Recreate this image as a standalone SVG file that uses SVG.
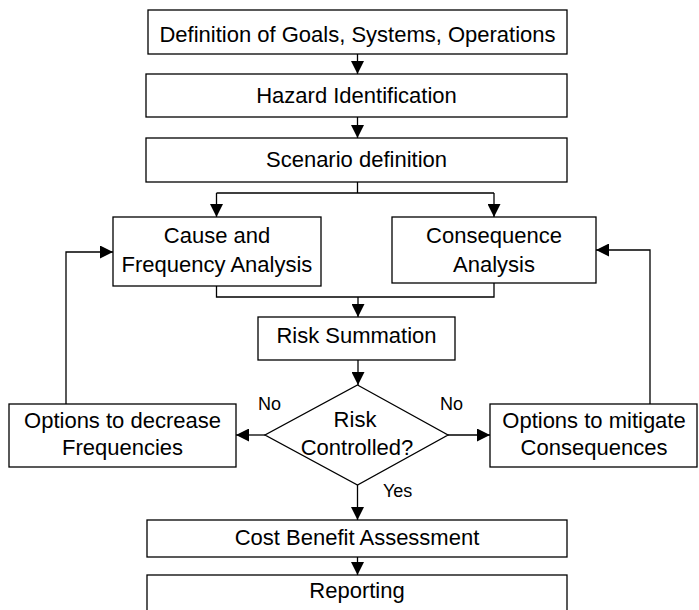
<svg xmlns="http://www.w3.org/2000/svg" width="699" height="610" viewBox="0 0 699 610">
<style>
.box{fill:#fff;stroke:#000;stroke-width:1.3}
.t{font-family:"Liberation Sans",Arial,sans-serif;font-size:22px;fill:#000;text-anchor:middle}
.l{font-family:"Liberation Sans",Arial,sans-serif;font-size:18px;fill:#000}
.c{fill:none;stroke:#000;stroke-width:1.3}
</style>
<defs>
<marker id="ah" markerUnits="userSpaceOnUse" markerWidth="13" markerHeight="13" refX="13" refY="6.5" orient="auto">
<path d="M0,0 L13,6.5 L0,13 z" fill="#000"/>
</marker>
</defs>
<rect width="699" height="610" fill="#fff"/>
<g id="connectors">
<path class="c" d="M357.5,54 V74" marker-end="url(#ah)"/>
<path class="c" d="M357.5,117 V138" marker-end="url(#ah)"/>
<path class="c" d="M357.5,182 V193 M216.5,193 H494"/>
<path class="c" d="M216.5,193 V217" marker-end="url(#ah)"/>
<path class="c" d="M494,193 V217" marker-end="url(#ah)"/>
<path class="c" d="M216.5,286 V297 H494 V283"/>
<path class="c" d="M358,297 V317" marker-end="url(#ah)"/>
<path class="c" d="M358,360 V385" marker-end="url(#ah)"/>
<path class="c" d="M265,435 H236" marker-end="url(#ah)"/>
<path class="c" d="M448,435 H490" marker-end="url(#ah)"/>
<path class="c" d="M357.5,485 V520" marker-end="url(#ah)"/>
<path class="c" d="M357.5,557 V575" marker-end="url(#ah)"/>
<path class="c" d="M66,404 V252 H113" marker-end="url(#ah)"/>
<path class="c" d="M650,404 V250 H596" marker-end="url(#ah)"/>
<text class="l" x="258" y="410">No</text>
<text class="l" x="440" y="410">No</text>
<text class="l" x="383" y="497">Yes</text>
</g>
<g id="definition"><rect class="box" x="148" y="10" width="419" height="44"/><text class="t" x="357.5" y="42">Definition of Goals, Systems, Operations</text></g>
<g id="hazard"><rect class="box" x="146" y="74" width="421" height="43"/><text class="t" x="356.5" y="103">Hazard Identification</text></g>
<g id="scenario"><rect class="box" x="146" y="138" width="421" height="44"/><text class="t" x="356.5" y="167">Scenario definition</text></g>
<g id="cause"><rect class="box" x="113" y="217" width="208" height="69"/><text class="t" x="217" y="243">Cause and</text><text class="t" x="217" y="272">Frequency Analysis</text></g>
<g id="consequence"><rect class="box" x="392" y="217" width="204" height="66"/><text class="t" x="494" y="243">Consequence</text><text class="t" x="494" y="272">Analysis</text></g>
<g id="risksum"><rect class="box" x="258" y="317" width="197" height="43"/><text class="t" x="356.5" y="343">Risk Summation</text></g>
<g id="decision"><path class="box" d="M357.5,385 L448,435 L357.5,485 L265,435 z"/><text class="t" x="355" y="427">Risk</text><text class="t" x="357" y="455">Controlled?</text></g>
<g id="optfreq"><rect class="box" x="9" y="404" width="227" height="63"/><text class="t" x="122.5" y="428">Options to decrease</text><text class="t" x="122.5" y="455">Frequencies</text></g>
<g id="optcons"><rect class="box" x="490" y="404" width="207" height="63"/><text class="t" x="594" y="428">Options to mitigate</text><text class="t" x="594" y="455">Consequences</text></g>
<g id="cost"><rect class="box" x="147" y="520" width="420" height="37"/><text class="t" x="357" y="545">Cost Benefit Assessment</text></g>
<g id="reporting"><rect class="box" x="147" y="575" width="420" height="45"/><text class="t" x="357" y="598">Reporting</text></g>
</svg>
